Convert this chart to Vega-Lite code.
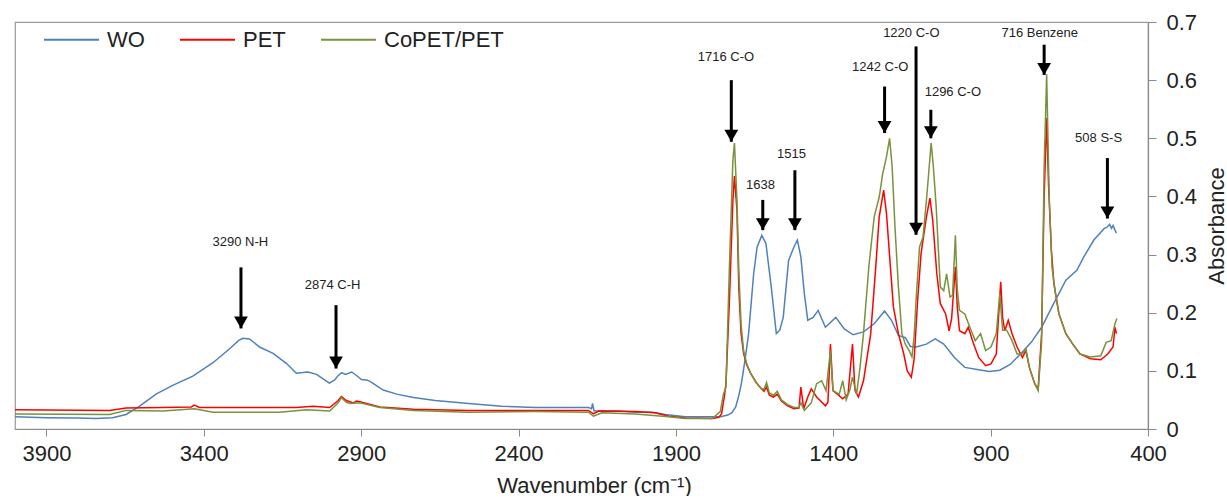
{
  "$schema": "https://vega.github.io/schema/vega-lite/v6.json",
  "width": 1133,
  "height": 407,
  "padding": {"left": 12, "top": 11, "right": 0, "bottom": 0},
  "background": "white",
  "config": {
    "font": "Liberation Sans",
    "view": {"stroke": "#9a9a9a", "strokeWidth": 1.2},
    "axis": {"grid": false, "domainColor": "#8a8a8a", "tickColor": "#8a8a8a", "labelColor": "#222222", "titleColor": "#222222", "labelFontSize": 22, "titleFontSize": 22, "titleFontWeight": "normal", "labelFont": "Liberation Sans", "titleFont": "Liberation Sans", "domainWidth": 1.2, "labelFlush": false}
  },
  "datasets": {
    "spectra": [
      {"s":"WO","x":4000,"y":0.021},{"s":"WO","x":3900,"y":0.0195},{"s":"WO","x":3800,"y":0.019},{"s":"WO","x":3743,"y":0.018},{"s":"WO","x":3690,"y":0.0195},{"s":"WO","x":3647,"y":0.025},{"s":"WO","x":3605,"y":0.039},{"s":"WO","x":3552,"y":0.06},{"s":"WO","x":3499,"y":0.075},{"s":"WO","x":3435,"y":0.091},{"s":"WO","x":3371,"y":0.114},{"s":"WO","x":3318,"y":0.138},{"s":"WO","x":3290,"y":0.152},{"s":"WO","x":3276,"y":0.156},{"s":"WO","x":3255,"y":0.155},{"s":"WO","x":3223,"y":0.141},{"s":"WO","x":3180,"y":0.13},{"s":"WO","x":3138,"y":0.113},{"s":"WO","x":3106,"y":0.096},{"s":"WO","x":3085,"y":0.097},{"s":"WO","x":3069,"y":0.098},{"s":"WO","x":3042,"y":0.094},{"s":"WO","x":3001,"y":0.079},{"s":"WO","x":2985,"y":0.084},{"s":"WO","x":2973,"y":0.092},{"s":"WO","x":2962,"y":0.097},{"s":"WO","x":2950,"y":0.094},{"s":"WO","x":2930,"y":0.098},{"s":"WO","x":2915,"y":0.092},{"s":"WO","x":2899,"y":0.085},{"s":"WO","x":2880,"y":0.084},{"s":"WO","x":2872,"y":0.082},{"s":"WO","x":2830,"y":0.067},{"s":"WO","x":2787,"y":0.06},{"s":"WO","x":2734,"y":0.054},{"s":"WO","x":2665,"y":0.049},{"s":"WO","x":2559,"y":0.044},{"s":"WO","x":2453,"y":0.039},{"s":"WO","x":2347,"y":0.037},{"s":"WO","x":2241,"y":0.037},{"s":"WO","x":2178,"y":0.037},{"s":"WO","x":2168,"y":0.035},{"s":"WO","x":2165,"y":0.044},{"s":"WO","x":2160,"y":0.031},{"s":"WO","x":2082,"y":0.031},{"s":"WO","x":2029,"y":0.029},{"s":"WO","x":1976,"y":0.029},{"s":"WO","x":1934,"y":0.025},{"s":"WO","x":1870,"y":0.021},{"s":"WO","x":1796,"y":0.021},{"s":"WO","x":1758,"y":0.021},{"s":"WO","x":1735,"y":0.024},{"s":"WO","x":1722,"y":0.028},{"s":"WO","x":1710,"y":0.038},{"s":"WO","x":1700,"y":0.058},{"s":"WO","x":1692,"y":0.078},{"s":"WO","x":1680,"y":0.12},{"s":"WO","x":1669,"y":0.164},{"s":"WO","x":1653,"y":0.267},{"s":"WO","x":1642,"y":0.313},{"s":"WO","x":1627,"y":0.333},{"s":"WO","x":1614,"y":0.319},{"s":"WO","x":1597,"y":0.244},{"s":"WO","x":1581,"y":0.164},{"s":"WO","x":1570,"y":0.17},{"s":"WO","x":1559,"y":0.192},{"s":"WO","x":1542,"y":0.29},{"s":"WO","x":1525,"y":0.313},{"s":"WO","x":1514,"y":0.325},{"s":"WO","x":1503,"y":0.296},{"s":"WO","x":1492,"y":0.233},{"s":"WO","x":1481,"y":0.187},{"s":"WO","x":1464,"y":0.192},{"s":"WO","x":1448,"y":0.204},{"s":"WO","x":1425,"y":0.175},{"s":"WO","x":1392,"y":0.192},{"s":"WO","x":1365,"y":0.172},{"s":"WO","x":1337,"y":0.162},{"s":"WO","x":1304,"y":0.167},{"s":"WO","x":1270,"y":0.181},{"s":"WO","x":1237,"y":0.203},{"s":"WO","x":1215,"y":0.187},{"s":"WO","x":1193,"y":0.161},{"s":"WO","x":1171,"y":0.157},{"s":"WO","x":1155,"y":0.142},{"s":"WO","x":1137,"y":0.141},{"s":"WO","x":1104,"y":0.146},{"s":"WO","x":1076,"y":0.155},{"s":"WO","x":1049,"y":0.146},{"s":"WO","x":1015,"y":0.123},{"s":"WO","x":996,"y":0.113},{"s":"WO","x":982,"y":0.106},{"s":"WO","x":938,"y":0.102},{"s":"WO","x":904,"y":0.099},{"s":"WO","x":871,"y":0.101},{"s":"WO","x":838,"y":0.111},{"s":"WO","x":805,"y":0.129},{"s":"WO","x":771,"y":0.149},{"s":"WO","x":738,"y":0.175},{"s":"WO","x":705,"y":0.21},{"s":"WO","x":661,"y":0.256},{"s":"WO","x":626,"y":0.273},{"s":"WO","x":604,"y":0.296},{"s":"WO","x":572,"y":0.325},{"s":"WO","x":539,"y":0.345},{"s":"WO","x":530,"y":0.347},{"s":"WO","x":522,"y":0.352},{"s":"WO","x":516,"y":0.345},{"s":"WO","x":511,"y":0.35},{"s":"WO","x":505,"y":0.342},{"s":"WO","x":500,"y":0.337},

      {"s":"PET","x":4000,"y":0.033},{"s":"PET","x":3700,"y":0.032},{"s":"PET","x":3647,"y":0.036},{"s":"PET","x":3530,"y":0.037},{"s":"PET","x":3440,"y":0.038},{"s":"PET","x":3430,"y":0.041},{"s":"PET","x":3414,"y":0.037},{"s":"PET","x":3265,"y":0.037},{"s":"PET","x":3106,"y":0.037},{"s":"PET","x":3053,"y":0.039},{"s":"PET","x":3000,"y":0.037},{"s":"PET","x":2973,"y":0.049},{"s":"PET","x":2963,"y":0.056},{"s":"PET","x":2947,"y":0.049},{"s":"PET","x":2925,"y":0.045},{"s":"PET","x":2915,"y":0.048},{"s":"PET","x":2904,"y":0.047},{"s":"PET","x":2883,"y":0.044},{"s":"PET","x":2841,"y":0.038},{"s":"PET","x":2734,"y":0.034},{"s":"PET","x":2559,"y":0.032},{"s":"PET","x":2347,"y":0.032},{"s":"PET","x":2178,"y":0.032},{"s":"PET","x":2162,"y":0.026},{"s":"PET","x":2146,"y":0.031},{"s":"PET","x":2029,"y":0.03},{"s":"PET","x":1966,"y":0.028},{"s":"PET","x":1923,"y":0.022},{"s":"PET","x":1870,"y":0.019},{"s":"PET","x":1785,"y":0.018},{"s":"PET","x":1764,"y":0.02},{"s":"PET","x":1755,"y":0.026},{"s":"PET","x":1745,"y":0.06},{"s":"PET","x":1741,"y":0.078},{"s":"PET","x":1730,"y":0.221},{"s":"PET","x":1719,"y":0.393},{"s":"PET","x":1714,"y":0.435},{"s":"PET","x":1706,"y":0.376},{"s":"PET","x":1700,"y":0.24},{"s":"PET","x":1693,"y":0.165},{"s":"PET","x":1685,"y":0.13},{"s":"PET","x":1675,"y":0.11},{"s":"PET","x":1662,"y":0.095},{"s":"PET","x":1645,"y":0.08},{"s":"PET","x":1630,"y":0.07},{"s":"PET","x":1620,"y":0.065},{"s":"PET","x":1612,"y":0.072},{"s":"PET","x":1603,"y":0.058},{"s":"PET","x":1590,"y":0.055},{"s":"PET","x":1578,"y":0.06},{"s":"PET","x":1565,"y":0.048},{"s":"PET","x":1545,"y":0.04},{"s":"PET","x":1525,"y":0.035},{"s":"PET","x":1509,"y":0.036},{"s":"PET","x":1503,"y":0.072},{"s":"PET","x":1494,"y":0.035},{"s":"PET","x":1481,"y":0.055},{"s":"PET","x":1470,"y":0.069},{"s":"PET","x":1453,"y":0.055},{"s":"PET","x":1425,"y":0.04},{"s":"PET","x":1417,"y":0.046},{"s":"PET","x":1409,"y":0.146},{"s":"PET","x":1401,"y":0.066},{"s":"PET","x":1387,"y":0.06},{"s":"PET","x":1370,"y":0.052},{"s":"PET","x":1353,"y":0.06},{"s":"PET","x":1339,"y":0.146},{"s":"PET","x":1331,"y":0.066},{"s":"PET","x":1320,"y":0.055},{"s":"PET","x":1304,"y":0.083},{"s":"PET","x":1281,"y":0.164},{"s":"PET","x":1265,"y":0.279},{"s":"PET","x":1254,"y":0.365},{"s":"PET","x":1240,"y":0.411},{"s":"PET","x":1231,"y":0.371},{"s":"PET","x":1220,"y":0.29},{"s":"PET","x":1209,"y":0.21},{"s":"PET","x":1193,"y":0.164},{"s":"PET","x":1176,"y":0.129},{"s":"PET","x":1165,"y":0.1},{"s":"PET","x":1152,"y":0.089},{"s":"PET","x":1143,"y":0.12},{"s":"PET","x":1132,"y":0.221},{"s":"PET","x":1121,"y":0.302},{"s":"PET","x":1104,"y":0.365},{"s":"PET","x":1093,"y":0.397},{"s":"PET","x":1084,"y":0.359},{"s":"PET","x":1071,"y":0.267},{"s":"PET","x":1060,"y":0.216},{"s":"PET","x":1043,"y":0.198},{"s":"PET","x":1032,"y":0.169},{"s":"PET","x":1024,"y":0.19},{"s":"PET","x":1012,"y":0.279},{"s":"PET","x":1006,"y":0.21},{"s":"PET","x":999,"y":0.169},{"s":"PET","x":982,"y":0.164},{"s":"PET","x":971,"y":0.175},{"s":"PET","x":954,"y":0.146},{"s":"PET","x":938,"y":0.123},{"s":"PET","x":916,"y":0.109},{"s":"PET","x":899,"y":0.112},{"s":"PET","x":882,"y":0.129},{"s":"PET","x":875,"y":0.192},{"s":"PET","x":868,"y":0.253},{"s":"PET","x":862,"y":0.192},{"s":"PET","x":855,"y":0.169},{"s":"PET","x":844,"y":0.187},{"s":"PET","x":832,"y":0.164},{"s":"PET","x":816,"y":0.141},{"s":"PET","x":799,"y":0.123},{"s":"PET","x":788,"y":0.135},{"s":"PET","x":777,"y":0.106},{"s":"PET","x":760,"y":0.078},{"s":"PET","x":749,"y":0.069},{"s":"PET","x":738,"y":0.164},{"s":"PET","x":730,"y":0.4},{"s":"PET","x":722,"y":0.535},{"s":"PET","x":716,"y":0.42},{"s":"PET","x":707,"y":0.307},{"s":"PET","x":699,"y":0.25},{"s":"PET","x":683,"y":0.198},{"s":"PET","x":661,"y":0.164},{"s":"PET","x":639,"y":0.146},{"s":"PET","x":616,"y":0.129},{"s":"PET","x":583,"y":0.121},{"s":"PET","x":550,"y":0.119},{"s":"PET","x":528,"y":0.129},{"s":"PET","x":511,"y":0.141},{"s":"PET","x":505,"y":0.175},{"s":"PET","x":500,"y":0.164},

      {"s":"CoPET/PET","x":4000,"y":0.026},{"s":"CoPET/PET","x":3700,"y":0.025},{"s":"CoPET/PET","x":3647,"y":0.032},{"s":"CoPET/PET","x":3530,"y":0.031},{"s":"CoPET/PET","x":3430,"y":0.035},{"s":"CoPET/PET","x":3371,"y":0.029},{"s":"CoPET/PET","x":3159,"y":0.029},{"s":"CoPET/PET","x":3074,"y":0.033},{"s":"CoPET/PET","x":3000,"y":0.031},{"s":"CoPET/PET","x":2973,"y":0.045},{"s":"CoPET/PET","x":2963,"y":0.054},{"s":"CoPET/PET","x":2947,"y":0.046},{"s":"CoPET/PET","x":2936,"y":0.044},{"s":"CoPET/PET","x":2904,"y":0.045},{"s":"CoPET/PET","x":2841,"y":0.037},{"s":"CoPET/PET","x":2734,"y":0.032},{"s":"CoPET/PET","x":2559,"y":0.029},{"s":"CoPET/PET","x":2347,"y":0.03},{"s":"CoPET/PET","x":2178,"y":0.029},{"s":"CoPET/PET","x":2162,"y":0.022},{"s":"CoPET/PET","x":2135,"y":0.028},{"s":"CoPET/PET","x":2029,"y":0.026},{"s":"CoPET/PET","x":1923,"y":0.021},{"s":"CoPET/PET","x":1870,"y":0.018},{"s":"CoPET/PET","x":1785,"y":0.018},{"s":"CoPET/PET","x":1759,"y":0.03},{"s":"CoPET/PET","x":1749,"y":0.06},{"s":"CoPET/PET","x":1741,"y":0.072},{"s":"CoPET/PET","x":1730,"y":0.279},{"s":"CoPET/PET","x":1719,"y":0.462},{"s":"CoPET/PET","x":1714,"y":0.492},{"s":"CoPET/PET","x":1706,"y":0.393},{"s":"CoPET/PET","x":1700,"y":0.27},{"s":"CoPET/PET","x":1693,"y":0.18},{"s":"CoPET/PET","x":1685,"y":0.135},{"s":"CoPET/PET","x":1675,"y":0.112},{"s":"CoPET/PET","x":1662,"y":0.095},{"s":"CoPET/PET","x":1645,"y":0.08},{"s":"CoPET/PET","x":1630,"y":0.07},{"s":"CoPET/PET","x":1620,"y":0.068},{"s":"CoPET/PET","x":1612,"y":0.08},{"s":"CoPET/PET","x":1603,"y":0.062},{"s":"CoPET/PET","x":1590,"y":0.058},{"s":"CoPET/PET","x":1578,"y":0.065},{"s":"CoPET/PET","x":1565,"y":0.05},{"s":"CoPET/PET","x":1545,"y":0.042},{"s":"CoPET/PET","x":1525,"y":0.037},{"s":"CoPET/PET","x":1510,"y":0.037},{"s":"CoPET/PET","x":1503,"y":0.045},{"s":"CoPET/PET","x":1492,"y":0.032},{"s":"CoPET/PET","x":1470,"y":0.045},{"s":"CoPET/PET","x":1453,"y":0.078},{"s":"CoPET/PET","x":1437,"y":0.083},{"s":"CoPET/PET","x":1423,"y":0.066},{"s":"CoPET/PET","x":1409,"y":0.135},{"s":"CoPET/PET","x":1401,"y":0.066},{"s":"CoPET/PET","x":1381,"y":0.06},{"s":"CoPET/PET","x":1370,"y":0.083},{"s":"CoPET/PET","x":1359,"y":0.05},{"s":"CoPET/PET","x":1348,"y":0.066},{"s":"CoPET/PET","x":1339,"y":0.089},{"s":"CoPET/PET","x":1326,"y":0.06},{"s":"CoPET/PET","x":1315,"y":0.106},{"s":"CoPET/PET","x":1304,"y":0.164},{"s":"CoPET/PET","x":1287,"y":0.279},{"s":"CoPET/PET","x":1270,"y":0.365},{"s":"CoPET/PET","x":1254,"y":0.399},{"s":"CoPET/PET","x":1243,"y":0.439},{"s":"CoPET/PET","x":1231,"y":0.468},{"s":"CoPET/PET","x":1221,"y":0.5},{"s":"CoPET/PET","x":1213,"y":0.451},{"s":"CoPET/PET","x":1204,"y":0.348},{"s":"CoPET/PET","x":1193,"y":0.244},{"s":"CoPET/PET","x":1182,"y":0.164},{"s":"CoPET/PET","x":1171,"y":0.146},{"s":"CoPET/PET","x":1159,"y":0.135},{"s":"CoPET/PET","x":1150,"y":0.124},{"s":"CoPET/PET","x":1143,"y":0.16},{"s":"CoPET/PET","x":1137,"y":0.221},{"s":"CoPET/PET","x":1126,"y":0.313},{"s":"CoPET/PET","x":1115,"y":0.33},{"s":"CoPET/PET","x":1104,"y":0.393},{"s":"CoPET/PET","x":1089,"y":0.492},{"s":"CoPET/PET","x":1082,"y":0.451},{"s":"CoPET/PET","x":1073,"y":0.382},{"s":"CoPET/PET","x":1060,"y":0.244},{"s":"CoPET/PET","x":1049,"y":0.238},{"s":"CoPET/PET","x":1040,"y":0.267},{"s":"CoPET/PET","x":1029,"y":0.227},{"s":"CoPET/PET","x":1021,"y":0.23},{"s":"CoPET/PET","x":1012,"y":0.333},{"s":"CoPET/PET","x":1006,"y":0.24},{"s":"CoPET/PET","x":999,"y":0.204},{"s":"CoPET/PET","x":982,"y":0.198},{"s":"CoPET/PET","x":966,"y":0.175},{"s":"CoPET/PET","x":949,"y":0.152},{"s":"CoPET/PET","x":932,"y":0.164},{"s":"CoPET/PET","x":916,"y":0.135},{"s":"CoPET/PET","x":899,"y":0.141},{"s":"CoPET/PET","x":882,"y":0.164},{"s":"CoPET/PET","x":871,"y":0.233},{"s":"CoPET/PET","x":862,"y":0.17},{"s":"CoPET/PET","x":849,"y":0.17},{"s":"CoPET/PET","x":832,"y":0.152},{"s":"CoPET/PET","x":816,"y":0.129},{"s":"CoPET/PET","x":799,"y":0.129},{"s":"CoPET/PET","x":788,"y":0.138},{"s":"CoPET/PET","x":777,"y":0.106},{"s":"CoPET/PET","x":760,"y":0.078},{"s":"CoPET/PET","x":749,"y":0.066},{"s":"CoPET/PET","x":738,"y":0.15},{"s":"CoPET/PET","x":730,"y":0.45},{"s":"CoPET/PET","x":722,"y":0.61},{"s":"CoPET/PET","x":714,"y":0.4},{"s":"CoPET/PET","x":705,"y":0.278},{"s":"CoPET/PET","x":694,"y":0.233},{"s":"CoPET/PET","x":683,"y":0.198},{"s":"CoPET/PET","x":661,"y":0.164},{"s":"CoPET/PET","x":639,"y":0.146},{"s":"CoPET/PET","x":616,"y":0.129},{"s":"CoPET/PET","x":583,"y":0.124},{"s":"CoPET/PET","x":550,"y":0.126},{"s":"CoPET/PET","x":533,"y":0.149},{"s":"CoPET/PET","x":517,"y":0.152},{"s":"CoPET/PET","x":505,"y":0.181},{"s":"CoPET/PET","x":499,"y":0.19}
    ],
    "ann": [
      {"label":"3290 N-H","tx":3284,"ty":0.322,"ax":3282,"y1":0.278,"y2":0.173},
      {"label":"2874 C-H","tx":2991,"ty":0.247,"ax":2980,"y1":0.213,"y2":0.104},
      {"label":"1716 C-O","tx":1741,"ty":0.64,"ax":1724,"y1":0.6,"y2":0.494},
      {"label":"1638","tx":1631,"ty":0.42,"ax":1624,"y1":0.394,"y2":0.342},
      {"label":"1515","tx":1533,"ty":0.473,"ax":1522,"y1":0.445,"y2":0.342},
      {"label":"1242 C-O","tx":1251,"ty":0.623,"ax":1237,"y1":0.589,"y2":0.509},
      {"label":"1220 C-O","tx":1152,"ty":0.681,"ax":1137,"y1":0.658,"y2":0.334},
      {"label":"1296 C-O","tx":1020,"ty":0.58,"ax":1090,"y1":0.549,"y2":0.5},
      {"label":"716 Benzene","tx":744,"ty":0.681,"ax":730,"y1":0.661,"y2":0.609},
      {"label":"508 S-S","tx":557,"ty":0.501,"ax":529,"y1":0.466,"y2":0.362}
    ]
  },
  "layer": [
    {
      "data": {"name": "spectra"},
      "transform": [{"filter": "datum.s === 'WO'"}],
      "mark": {"type": "line", "strokeWidth": 1.5},
      "encoding": {
        "x": {"field": "x", "type": "quantitative", "scale": {"domain": [4000, 400], "nice": false, "zero": false},
          "axis": {"orient": "bottom", "values": [3900, 3400, 2900, 2400, 1900, 1400, 900, 400], "format": "d", "tickSize": 7, "labelPadding": 7, "title": "Wavenumber (cm⁻¹)", "titlePadding": 11, "titleX": 579}},
        "y": {"field": "y", "type": "quantitative", "scale": {"domain": [0, 0.7], "nice": false},
          "axis": {"orient": "right", "values": [0, 0.1, 0.2, 0.3, 0.4, 0.5, 0.6, 0.7], "format": ".1~f", "tickSize": 8, "labelPadding": 10, "title": "Absorbance", "titleAngle": -90, "titleBaseline": "top", "titlePadding": 10}},
        "color": {"field": "s", "type": "nominal", "scale": {"domain": ["WO", "PET", "CoPET/PET"], "range": ["#4F81BD", "#FF0000", "#77933C"]},
          "legend": {"title": null, "orient": "none", "legendX": 28, "legendY": -11, "direction": "horizontal", "symbolType": "stroke", "symbolSize": 3025, "symbolStrokeWidth": 2, "labelFontSize": 22, "labelFont": "Liberation Sans", "labelColor": "#222222", "labelOffset": 7, "columnPadding": 31}}
      }
    },
    {
      "data": {"name": "spectra"},
      "transform": [{"filter": "datum.s === 'PET'"}],
      "mark": {"type": "line", "strokeWidth": 1.5},
      "encoding": {
        "x": {"field": "x", "type": "quantitative"},
        "y": {"field": "y", "type": "quantitative"},
        "color": {"field": "s", "type": "nominal"}
      }
    },
    {
      "data": {"name": "spectra"},
      "transform": [{"filter": "datum.s === 'CoPET/PET'"}],
      "mark": {"type": "line", "strokeWidth": 1.5},
      "encoding": {
        "x": {"field": "x", "type": "quantitative"},
        "y": {"field": "y", "type": "quantitative"},
        "color": {"field": "s", "type": "nominal"}
      }
    },
    {
      "data": {"name": "ann"},
      "mark": {"type": "rule", "strokeWidth": 3, "color": "black"},
      "encoding": {
        "x": {"field": "ax", "type": "quantitative"},
        "y": {"field": "y1", "type": "quantitative"},
        "y2": {"field": "y2"}
      }
    },
    {
      "data": {"name": "ann"},
      "mark": {"type": "point", "shape": "triangle-down", "filled": true, "size": 190, "color": "black", "opacity": 1, "yOffset": -6},
      "encoding": {
        "x": {"field": "ax", "type": "quantitative"},
        "y": {"field": "y2", "type": "quantitative"}
      }
    },
    {
      "data": {"name": "ann"},
      "mark": {"type": "text", "fontSize": 13, "font": "Liberation Sans", "color": "#222222", "align": "center", "baseline": "middle"},
      "encoding": {
        "x": {"field": "tx", "type": "quantitative"},
        "y": {"field": "ty", "type": "quantitative"},
        "text": {"field": "label"}
      }
    }
  ]
}
